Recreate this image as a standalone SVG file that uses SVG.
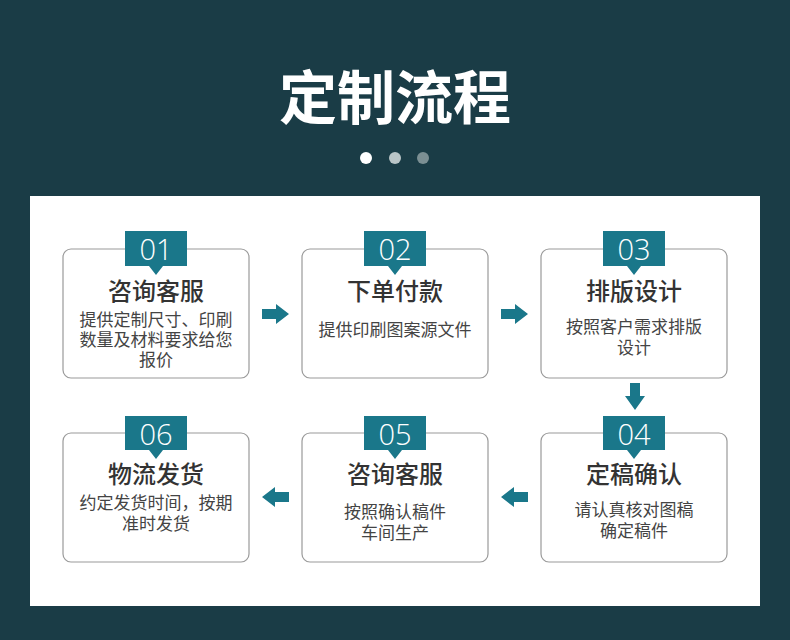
<svg xmlns="http://www.w3.org/2000/svg" width="790" height="640" viewBox="0 0 790 640">
<defs>
<style>
.box{fill:#fff;stroke:#9a9a9a;stroke-width:1.2}
.badge{fill:#1a778a}
.num{font-family:"Open Sans","Liberation Sans",sans-serif;font-size:29px;font-weight:300;fill:#fff;text-anchor:middle}
.ttl{font-family:"Noto Sans CJK SC",sans-serif;font-size:24px;font-weight:500;fill:#333;text-anchor:middle}
.dsc{font-family:"Noto Sans CJK SC",sans-serif;font-size:17px;fill:#444;text-anchor:middle}
.arr{fill:#1a778a}
</style>
</defs>
<rect width="790" height="640" fill="#1a3c46"/>
<text x="395" y="119" font-family="Noto Sans CJK SC,sans-serif" font-size="58" font-weight="bold" fill="#fff" text-anchor="middle">定制流程</text>
<circle cx="366" cy="158" r="6" fill="#fff"/>
<circle cx="395" cy="158" r="6" fill="#b9c5c7"/>
<circle cx="423" cy="158" r="6" fill="#7b8f93"/>
<rect x="30" y="196" width="730" height="410" fill="#fff"/>

<g id="node1">
<rect class="box" x="63" y="249" width="186" height="129" rx="8"/>
<path class="badge" d="M125 231H187V266H163L156 275L149 266H125Z"/>
<text class="num" x="156" y="260">01</text>
<text class="ttl" x="156" y="300">咨询客服</text>
<text class="dsc" x="156" y="326">提供定制尺寸、印刷</text>
<text class="dsc" x="156" y="346">数量及材料要求给您</text>
<text class="dsc" x="156" y="366">报价</text>
</g>
<g id="node2">
<rect class="box" x="302" y="249" width="186" height="129" rx="8"/>
<path class="badge" d="M364 231H426V266H402L395 275L388 266H364Z"/>
<text class="num" x="395" y="260">02</text>
<text class="ttl" x="395" y="300">下单付款</text>
<text class="dsc" x="395" y="336">提供印刷图案源文件</text>
</g>
<g id="node3">
<rect class="box" x="541" y="249" width="186" height="129" rx="8"/>
<path class="badge" d="M603 231H665V266H641L634 275L627 266H603Z"/>
<text class="num" x="634" y="260">03</text>
<text class="ttl" x="634" y="300">排版设计</text>
<text class="dsc" x="634" y="333">按照客户需求排版</text>
<text class="dsc" x="634" y="354">设计</text>
</g>
<g id="node4">
<rect class="box" x="541" y="433" width="186" height="129" rx="8"/>
<path class="badge" d="M603 416H665V450H641L634 459L627 450H603Z"/>
<text class="num" x="634" y="445">04</text>
<text class="ttl" x="634" y="483">定稿确认</text>
<text class="dsc" x="634" y="516">请认真核对图稿</text>
<text class="dsc" x="634" y="537">确定稿件</text>
</g>
<g id="node5">
<rect class="box" x="302" y="433" width="186" height="129" rx="8"/>
<path class="badge" d="M364 416H426V450H402L395 459L388 450H364Z"/>
<text class="num" x="395" y="445">05</text>
<text class="ttl" x="395" y="483">咨询客服</text>
<text class="dsc" x="395" y="518">按照确认稿件</text>
<text class="dsc" x="395" y="539">车间生产</text>
</g>
<g id="node6">
<rect class="box" x="63" y="433" width="186" height="129" rx="8"/>
<path class="badge" d="M125 416H187V450H163L156 459L149 450H125Z"/>
<text class="num" x="156" y="445">06</text>
<text class="ttl" x="156" y="483">物流发货</text>
<text class="dsc" x="156" y="509">约定发货时间，按期</text>
<text class="dsc" x="156" y="530">准时发货</text>
</g>

<g id="connectors">
<path class="arr" d="M262 309H276V304L289 314L276 324V319H262Z"/>
<path class="arr" d="M501 309H515V304L528 314L515 324V319H501Z"/>
<path class="arr" d="M630 383H640V396H645L635 410L625 396H630Z"/>
<path class="arr" d="M528 492H514V487L501 497L514 507V502H528Z"/>
<path class="arr" d="M289 492H275V487L262 497L275 507V502H289Z"/>
</g>
</svg>
